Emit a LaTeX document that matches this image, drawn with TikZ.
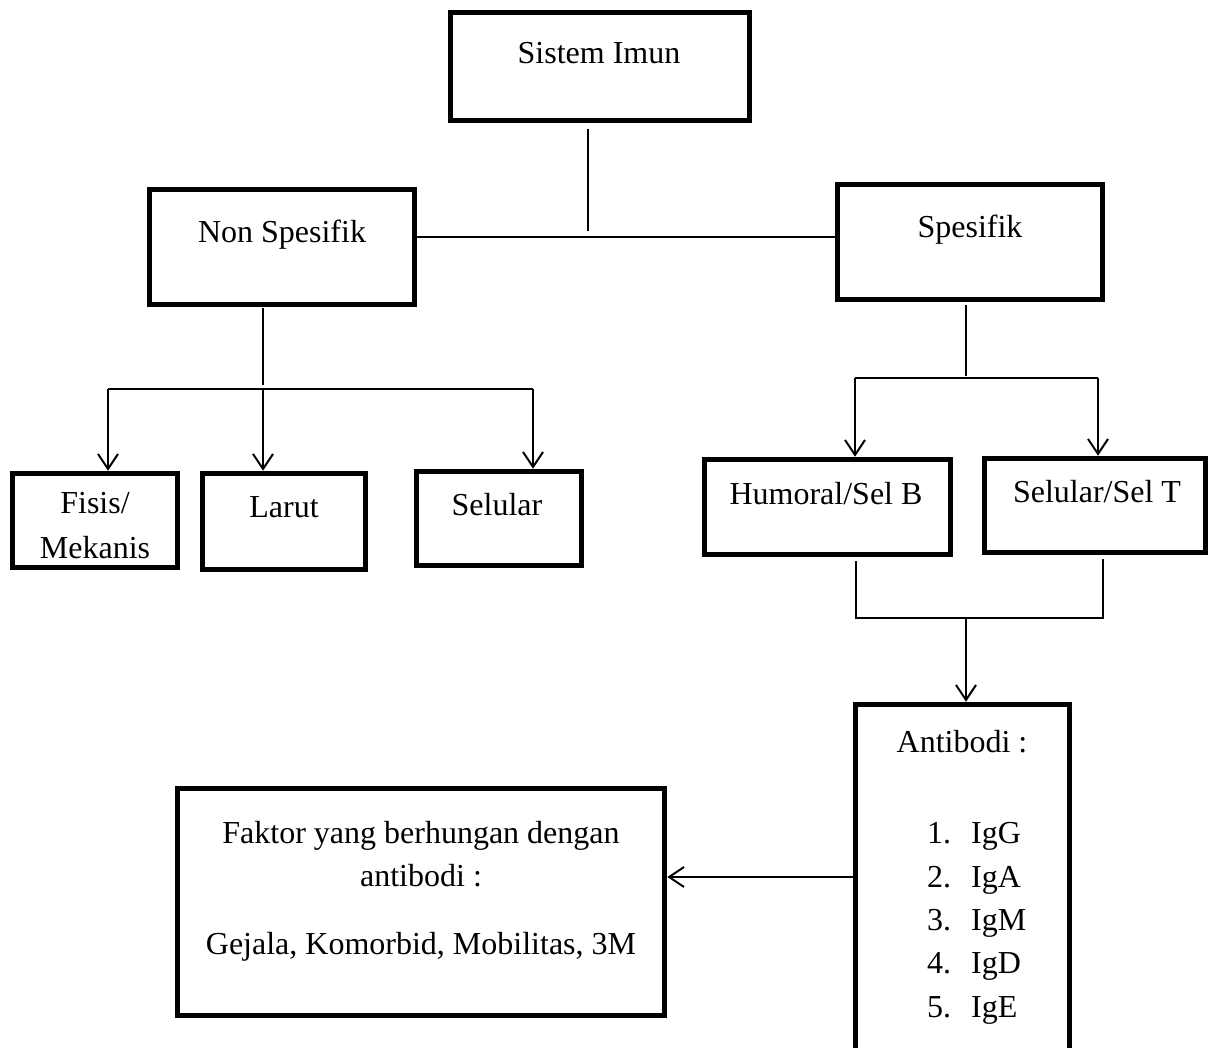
\documentclass[tikz,border=0pt]{standalone}
\usepackage{fontspec}
\setmainfont{Liberation Serif}
\usetikzlibrary{arrows.meta}
\begin{document}
\begin{tikzpicture}[x=1pt,y=-1pt,
  box/.style={draw, line width=5.5pt, inner sep=0pt},
  txt/.style={anchor=base, inner sep=0pt, font=\fontsize{32}{38}\selectfont},
  ltxt/.style={txt, anchor=base west},
  conn/.style={line width=2pt},
  arr/.style={conn, -{Straight Barb[length=15pt,width=20pt]}}]
\useasboundingbox (0,0) rectangle (1208,1048);
\clip (0,0) rectangle (1208,1048);
% boxes
\node[box, minimum width=299pt, minimum height=108pt] (sistem) at (600,66.5) {};
\node[box, minimum width=265pt, minimum height=115pt] (nonsp) at (282,247) {};
\node[box, minimum width=265pt, minimum height=115pt] (spes) at (970,242) {};
\node[box, minimum width=165pt, minimum height=94pt] (fisis) at (95,520.5) {};
\node[box, minimum width=163pt, minimum height=96pt] (larut) at (284,521.5) {};
\node[box, minimum width=165pt, minimum height=94pt] (selular) at (499,518.5) {};
\node[box, minimum width=246pt, minimum height=95pt] (humoral) at (827.5,507) {};
\node[box, minimum width=221pt, minimum height=94pt] (selt) at (1095,505.5) {};
\node[box, minimum width=214pt, minimum height=353pt] (anti) at (962.5,881) {};
\node[box, minimum width=487pt, minimum height=227pt] (faktor) at (421,902) {};
% texts
\node[txt] (tsistem) at (599,64) {Sistem Imun};
\node[txt] (tnonsp) at (282,243) {Non Spesifik};
\node[txt] (tspes) at (970,238) {Spesifik};
\node[txt] (tfisis1) at (95,514) {Fisis/};
\node[txt] (tfisis2) at (95,558) {Mekanis};
\node[txt] (tlarut) at (284,517) {Larut};
\node[txt] (tselular) at (497,515) {Selular};
\node[txt] (thumoral) at (826,504) {Humoral/Sel B};
\node[txt] (tselt) at (1097,502) {Selular/Sel T};
\node[txt] (tanti) at (962,752) {Antibodi :};
\node[ltxt] (n1) at (927,843) {1.};
\node[ltxt] (n2) at (927,887) {2.};
\node[ltxt] (n3) at (927,930) {3.};
\node[ltxt] (n4) at (927,973) {4.};
\node[ltxt] (n5) at (927,1017) {5.};
\node[ltxt] (i1) at (971,843) {IgG};
\node[ltxt] (i2) at (971,887) {IgA};
\node[ltxt] (i3) at (971,930) {IgM};
\node[ltxt] (i4) at (971,973) {IgD};
\node[ltxt] (i5) at (971,1017) {IgE};
\node[txt] (tf1) at (421,843) {Faktor yang berhungan dengan};
\node[txt] (tf2) at (421,886) {antibodi :};
\node[txt] (tf3) at (421,954) {Gejala, Komorbid, Mobilitas, 3M};
% connectors
\coordinate (s1) at (588,129);
\coordinate (s2) at (588,231);
\coordinate (j1) at (588,237);
\draw[conn] (s1) -- (s2);
\draw[conn] (nonsp.east |- j1) -- (spes.west |- j1);
\coordinate (ns1) at (263,308);
\coordinate (ns2) at (263,385);
\coordinate (h1L) at (108,389);
\coordinate (h1M) at (263,389);
\coordinate (h1R) at (533,389);
\draw[conn] (ns1) -- (ns2);
\draw[conn] (h1L) -- (h1R);
\draw[arr] (h1L) -- (fisis.north -| h1L);
\draw[arr] (h1M) -- (larut.north -| h1M);
\draw[arr] (h1R) -- (selular.north -| h1R);
\coordinate (p1) at (966,305);
\coordinate (p2) at (966,376);
\coordinate (h2L) at (855,378);
\coordinate (h2R) at (1098,378);
\draw[conn] (p1) -- (p2);
\draw[conn] (h2L) -- (h2R);
\draw[arr] (h2L) -- (humoral.north -| h2L);
\draw[arr] (h2R) -- (selt.north -| h2R);
\coordinate (hb) at (856,561);
\coordinate (sb) at (1103,559);
\coordinate (m1) at (856,618);
\coordinate (m2) at (1103,618);
\coordinate (m3) at (966,618);
\draw[conn] (hb) -- (m1) -- (m2) -- (sb);
\draw[arr] (m3) -- (anti.north -| m3);
\coordinate (a1) at (0,877);
\draw[arr] (anti.west |- a1) -- (faktor.east |- a1);
\end{tikzpicture}
\end{document}
